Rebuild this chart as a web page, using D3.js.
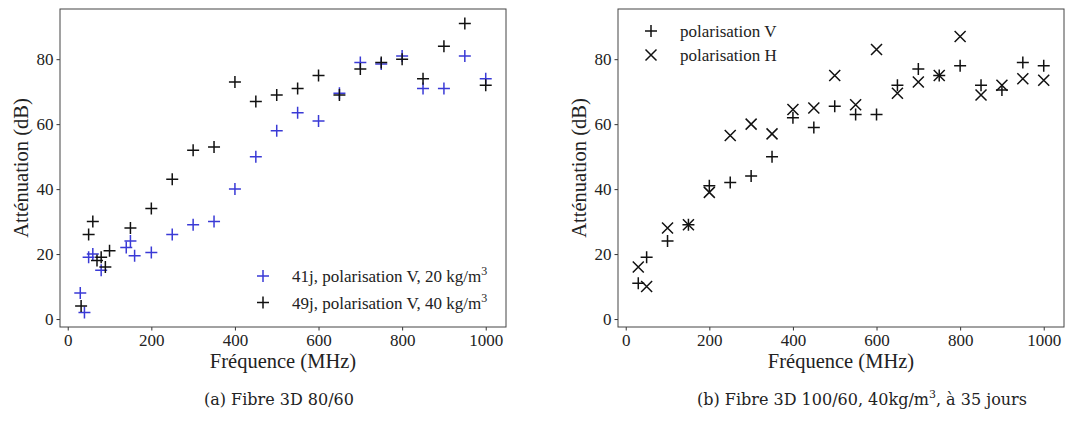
<!DOCTYPE html>
<html>
<head>
<meta charset="utf-8">
<script src="https://cdn.jsdelivr.net/npm/d3@7"></script>
<style>
  body { margin: 0; background: #fff; }
  svg { display: block; }
  .tick text { font-family: "Liberation Serif", "Times New Roman", serif; font-size: 17px; fill: #222; }
  .tick line { stroke: #333; }
  .label { font-family: "Liberation Serif", serif; font-size: 20.5px; fill: #222; }
  .leg { font-family: "Liberation Serif", serif; font-size: 17px; fill: #222; }
  .caption { font-family: "DejaVu Serif", "Liberation Serif", serif; font-size: 16px; fill: #222; }
</style>
</head>
<body>
<svg id="chart" width="1069" height="432"></svg>
<script>
// Donnees (a) : frequences et attenuations
const freqA = [30, 40, 50, 60, 80, 140, 150, 160, 200, 250, 300, 350, 400, 450, 500, 550, 600, 650, 700, 750, 800, 850, 900, 950, 1000];
const att41j = [8, 2, 19, 20, 15, 22, 24, 19.5, 20.5, 26, 29, 30, 40, 50, 58, 63.5, 61, 69.5, 79, 78.5, 81, 71, 71, 81, 74];
const freqA2 = [32, 50, 60, 70, 80, 90, 100, 150, 200, 250, 300, 350, 400, 450, 500, 550, 600, 650, 700, 750, 800, 850, 900, 950, 1000];
const att49j = [4, 26, 30, 18, 19, 16, 21, 28, 34, 43, 52, 53, 73, 67, 69, 71, 75, 69, 77, 79, 80, 74, 84, 91, 72];

// Donnees (b)
const freqB = [30, 50, 100, 150, 200, 250, 300, 350, 400, 450, 500, 550, 600, 650, 700, 750, 800, 850, 900, 950, 1000];
const attV = [11, 19, 24, 29, 41, 42, 44, 50, 62, 59, 65.5, 63, 63, 72, 77, 75, 78, 72, 70.5, 79, 78];
const attH = [16, 10, 28, 29, 39, 56.5, 60, 57, 64.5, 65, 75, 66, 83, 69.5, 73, 75, 87, 69, 72, 74, 73.5];

const xTicks = [0, 200, 400, 600, 800, 1000];
const yTicks = [0, 20, 40, 60, 80];

const svg = d3.select("#chart");

const plus = "M-6,0H6M0,-6V6";
const cross = "M-5.5,-5.5L5.5,5.5M-5.5,5.5L5.5,-5.5";

function panel(left, right, series, legend, caption, capX) {
  const top = 9, bottom = 327;
  const x = d3.scaleLinear().domain([-18.5, 1048.5]).range([left, right]);
  const y = d3.scaleLinear().domain([-2.45, 95.45]).range([bottom, top]);

  const g = svg.append("g");

  g.append("g")
    .attr("transform", `translate(0,${bottom})`)
    .call(d3.axisBottom(x).tickValues(xTicks).tickFormat(d3.format("d")).tickSize(3.5).tickPadding(3))
    .call(a => a.select(".domain").remove());
  g.append("g")
    .attr("transform", `translate(${left},0)`)
    .call(d3.axisLeft(y).tickValues(yTicks).tickSize(3.5).tickPadding(3))
    .call(a => a.select(".domain").remove());

  // cadre
  g.append("rect")
    .attr("x", left).attr("y", top)
    .attr("width", right - left).attr("height", bottom - top)
    .attr("fill", "none").attr("stroke", "#444").attr("stroke-width", 1);

  series.forEach(s => {
    g.selectAll(null)
      .data(s.xs.map((f, i) => [f, s.ys[i]]))
      .join("path")
      .attr("d", s.shape)
      .attr("transform", d => `translate(${x(d[0])},${y(d[1])})`)
      .attr("fill", "none")
      .attr("stroke", s.color)
      .attr("stroke-width", 1.5);
  });

  // legende
  legend.items.forEach((it, i) => {
    const ly = legend.y + i * legend.dy;
    g.append("path").attr("d", it.shape)
      .attr("transform", `translate(${legend.x},${ly})`)
      .attr("fill", "none").attr("stroke", it.color).attr("stroke-width", 1.5);
    const t = g.append("text").attr("class", "leg")
      .attr("x", legend.x + 29).attr("y", ly + 6);
    t.append("tspan").text(it.text);
    if (it.sup) t.append("tspan").attr("dy", -7).attr("font-size", "12px").text(it.sup);
  });

  const cx = (left + right) / 2;
  g.append("text").attr("class", "label")
    .attr("x", cx).attr("y", 368).attr("text-anchor", "middle")
    .text("Fréquence (MHz)");
  g.append("text").attr("class", "label")
    .attr("transform", `translate(${left - 32},${(top + bottom) / 2}) rotate(-90)`)
    .attr("text-anchor", "middle")
    .text("Atténuation (dB)");

  const c = g.append("text").attr("class", "caption")
    .attr("x", capX).attr("y", 405).attr("text-anchor", "middle");
  caption.forEach(p => {
    const ts = c.append("tspan").text(p.t);
    if (p.sup) ts.attr("dy", -7).attr("font-size", "11px");
    if (p.back) ts.attr("dy", 7);
  });
}

panel(60, 506,
  [
    { xs: freqA, ys: att41j, shape: plus, color: "#3a3ad6" },
    { xs: freqA2, ys: att49j, shape: plus, color: "#111" }
  ],
  { x: 263, y: 276, dy: 26.5, items: [
    { shape: plus, color: "#3a3ad6", text: "41j, polarisation V, 20 kg/m", sup: "3" },
    { shape: plus, color: "#111", text: "49j, polarisation V, 40 kg/m", sup: "3" }
  ]},
  [{ t: "(a) Fibre 3D 80/60" }], 279
);

panel(618, 1064,
  [
    { xs: freqB, ys: attV, shape: plus, color: "#111" },
    { xs: freqB, ys: attH, shape: cross, color: "#111" }
  ],
  { x: 651, y: 31, dy: 24, items: [
    { shape: plus, color: "#111", text: "polarisation V" },
    { shape: cross, color: "#111", text: "polarisation H" }
  ]},
  [{ t: "(b) Fibre 3D 100/60, 40kg/m" }, { t: "3", sup: true }, { t: ", à 35 jours", back: true }], 862
);
</script>
</body>
</html>
